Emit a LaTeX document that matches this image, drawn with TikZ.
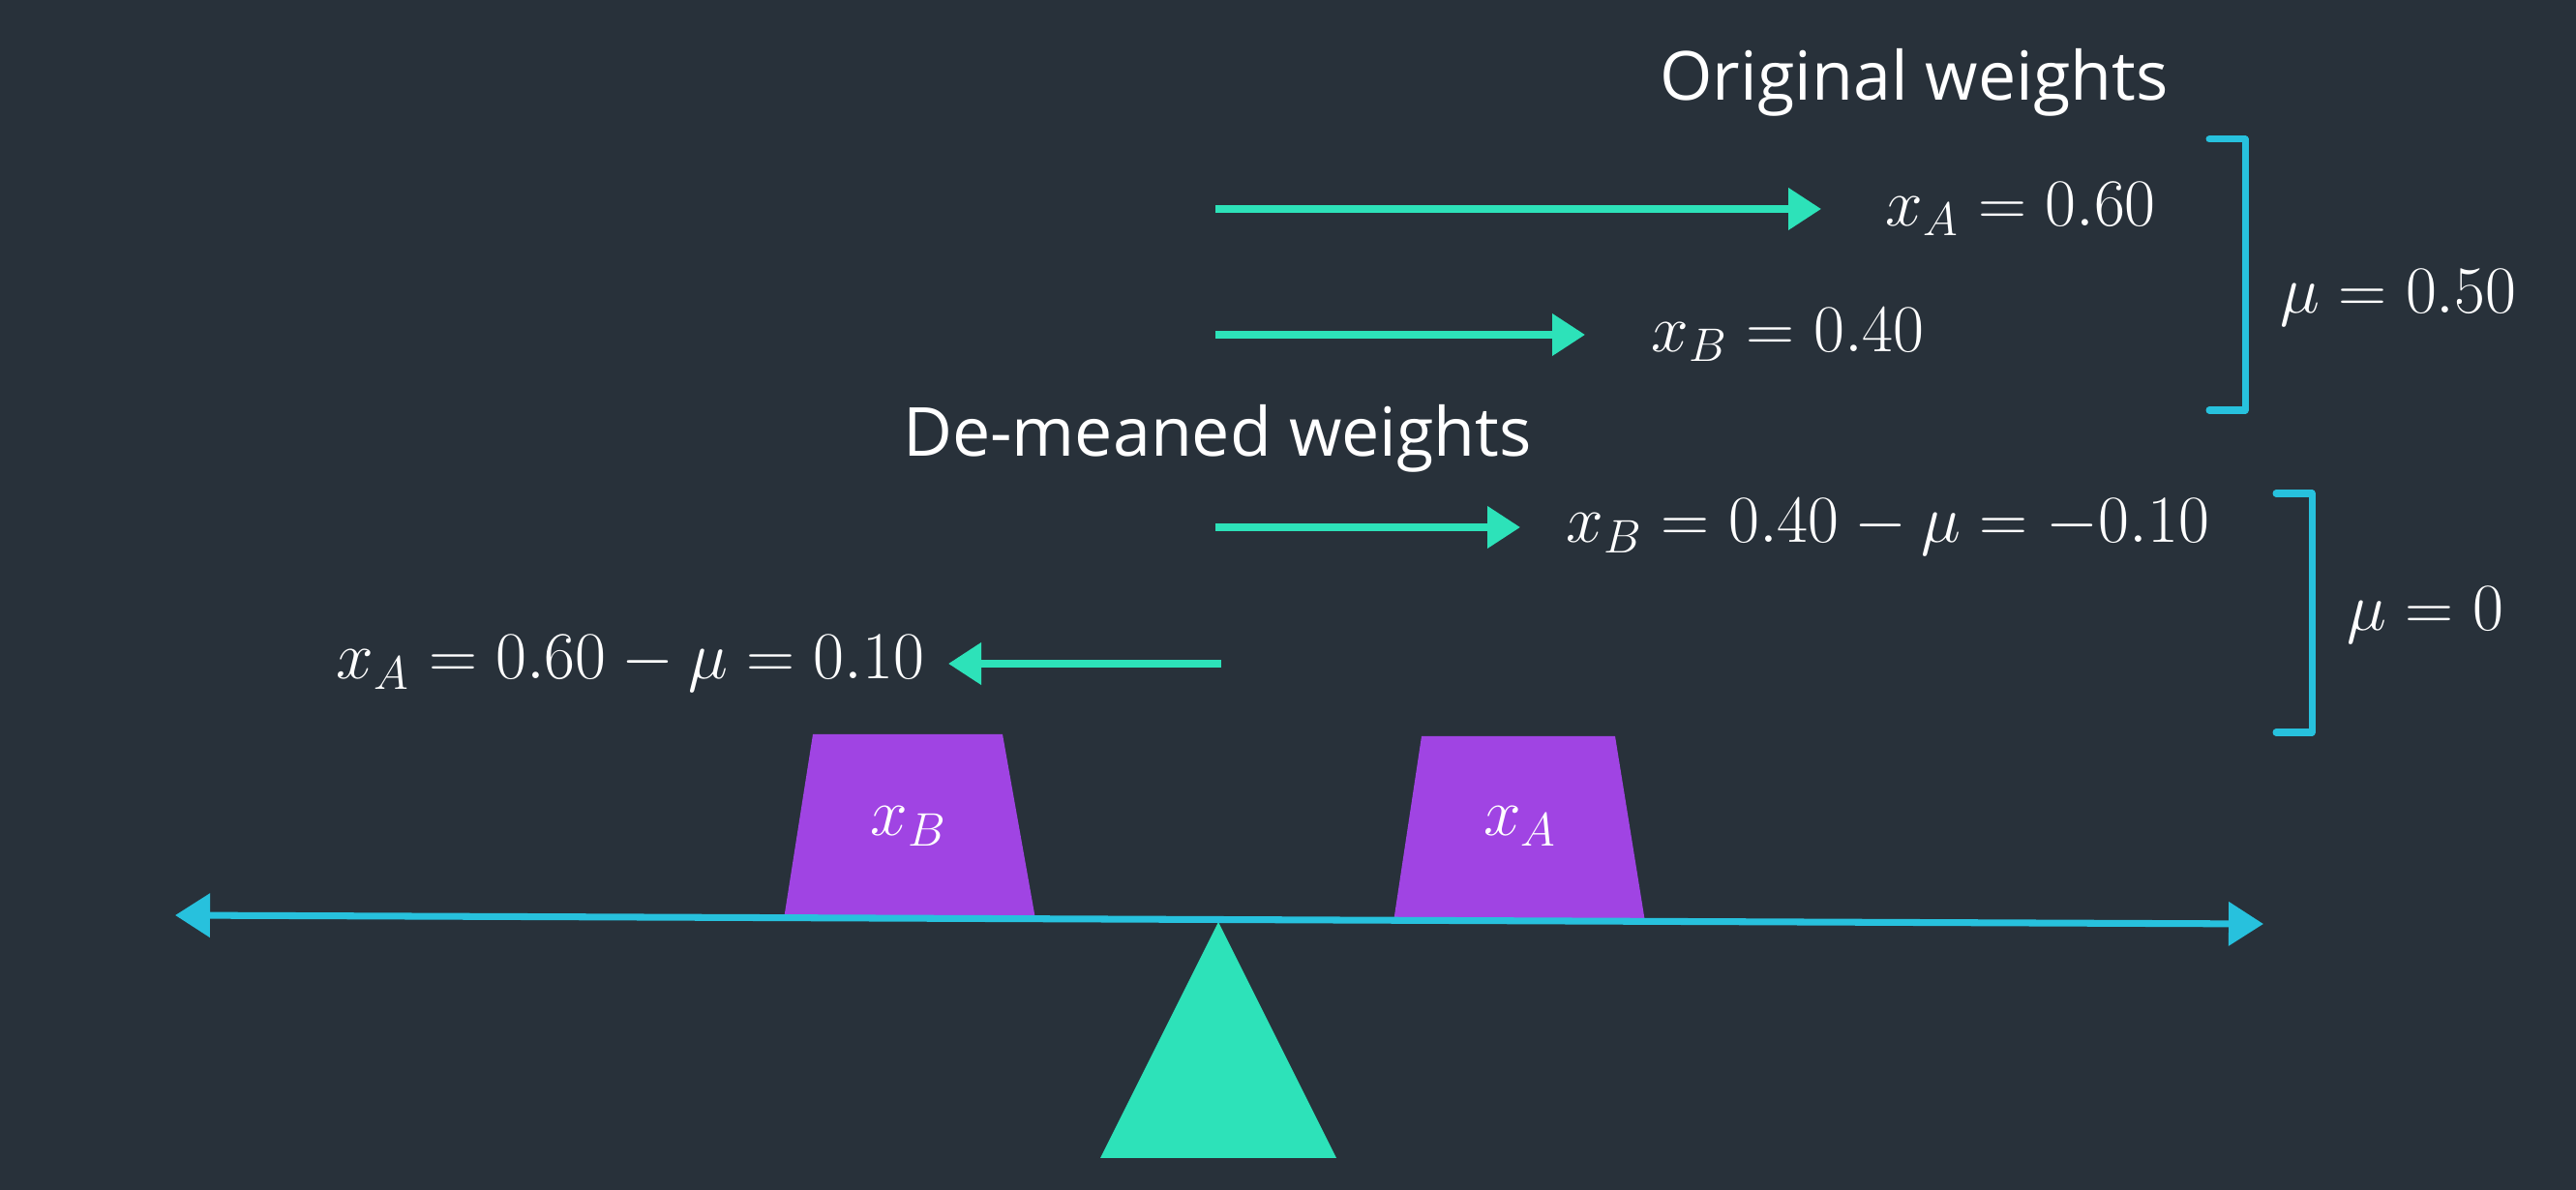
\RequirePackage{fix-cm}
\documentclass[tikz,border=0pt]{standalone}
\usepackage{fontspec}
\setmainfont{Open Sans}
\usepackage{tikz}
\usetikzlibrary{arrows.meta}

\definecolor{slate}{RGB}{40,49,58}
\definecolor{mint}{RGB}{45,226,185}
\definecolor{skyline}{RGB}{39,193,221}
\definecolor{plum}{RGB}{160,68,227}

\tikzset{
  weight/.style={mint,line width=2.1pt,-{Triangle[length=0.34cm,width=0.42cm]}},
  beam/.style={skyline,line width=2pt,{Triangle[length=0.36cm,width=0.44cm]}-{Triangle[length=0.36cm,width=0.44cm]}},
  bracket/.style={skyline,line width=2pt,line cap=round,line join=round},
  eq/.style={text=white,inner sep=0pt,font=\fontsize{19.75}{24}\selectfont},
  heading/.style={text=white,inner sep=0pt,font=\fontsize{19.9}{24}\selectfont},
  block/.style={fill=plum},
}

\begin{document}
\begin{tikzpicture}
  \fill[slate] (0,0) rectangle (26.62,12.30);
  \useasboundingbox (0,0) rectangle (26.62,12.30);

   \draw (19.78,11.45) node[heading] (original) {Original weights};
   \draw (12.58,7.77) node[heading] (demeaned) {De-meaned weights};

  \coordinate (startA) at (12.56,10.14);
  \coordinate (startB) at (12.56,8.84);
  \coordinate (startBd) at (12.56,6.85);
  \coordinate (startAd) at (12.62,5.44);

  \draw (19.48,10.14) node[eq,anchor=west] (xA) {$x_A = 0.60$};
  \draw (17.06,8.84) node[eq,anchor=west] (xB) {$x_B = 0.40$};
  \draw (16.18,6.85) node[eq,anchor=west] (xBd) {$x_B = 0.40 - \mu = -0.10$};
  \draw (9.56,5.44) node[eq,anchor=east] (xAd) {$x_A = 0.60 - \mu = 0.10$};

    \path (startA) edge[weight,shorten >=0.66cm] (xA.west);
    \path (startB) edge[weight,shorten >=0.68cm] (xB.west);
    \path (startBd) edge[weight,shorten >=0.47cm] (xBd.west);
    \path (startAd) edge[weight,shorten >=0.24cm] (xAd.east);

  % brackets with the means
  \draw[bracket] (22.83,10.86) -- (23.20,10.86) -- (23.20,8.06) -- (22.83,8.06);
  \draw (23.56,9.22) node[eq,anchor=west] (muorig) {$\mu = 0.50$};
  \draw[bracket] (23.52,7.20) -- (23.89,7.20) -- (23.89,4.73) -- (23.52,4.73);
  \draw (24.25,5.94) node[eq,anchor=west] (mudemeaned) {$\mu = 0$};

  % seesaw
  \fill[block] (8.40,4.71) -- (10.36,4.71) -- (10.70,2.80) -- (8.10,2.80) -- cycle;
  \fill[block] (14.69,4.69) -- (16.69,4.69) -- (17.00,2.77) -- (14.40,2.77) -- cycle;
   \draw (9.39,3.76) node[eq] (blockB) {$x_B$};
   \draw (15.71,3.76) node[eq] (blockA) {$x_A$};
  \fill[mint] (12.59,2.77) -- (13.81,0.33) -- (11.37,0.33) -- cycle;
  \coordinate (beamL) at (1.81,2.84);
  \coordinate (beamR) at (23.39,2.75);
    \draw[beam] (beamL) -- (beamR);

\end{tikzpicture}
\end{document}
